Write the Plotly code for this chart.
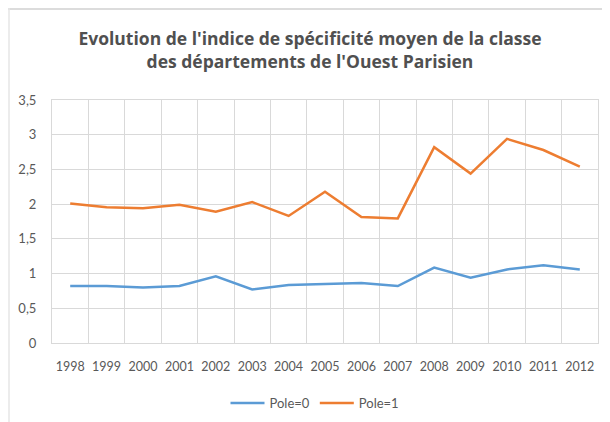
import plotly.graph_objects as go

years = ["1998", "1999", "2000", "2001", "2002", "2003", "2004", "2005",
         "2006", "2007", "2008", "2009", "2010", "2011", "2012"]
pole0 = [0.82, 0.82, 0.80, 0.82, 0.96, 0.77, 0.835, 0.845, 0.865, 0.82,
         1.085, 0.94, 1.06, 1.12, 1.06]
pole1 = [2.01, 1.955, 1.94, 1.99, 1.89, 2.03, 1.83, 2.18, 1.815, 1.795,
         2.82, 2.44, 2.94, 2.78, 2.54]
y_ticks = [0, 0.5, 1, 1.5, 2, 2.5, 3, 3.5]
title_text = "Evolution de l'indice de spécificité moyen de la classe<br>des départements de l'Ouest Parisien"

# page has an 8px body margin; work in figure coordinates
OFF = 8
W, H = 610 - OFF, 422 - OFF
L, T = 52 - OFF, 100 - OFF
R = W - (598 - OFF)
B = H - (343 - OFF)
pw, ph = W - L - R, H - T - B

fig = go.Figure()
fig.add_trace(go.Scatter(x=years, y=pole0, mode="lines", name="Pole=0",
                         line=dict(color="#5B9BD5", width=2.5)))
fig.add_trace(go.Scatter(x=years, y=pole1, mode="lines", name="Pole=1",
                         line=dict(color="#ED7D31", width=2.5)))

grid = "#D9D9D9"
fig.update_layout(
    width=W, height=H,
    margin=dict(l=L, r=R, t=T, b=B, autoexpand=False),
    paper_bgcolor="white", plot_bgcolor="white",
    separators=", ",
    font=dict(family="Lato, Open Sans, sans-serif", color="#595959", size=13),
    title=dict(text=title_text, x=(310 - OFF) / W, xanchor="center",
               y=1 - 37 / H, yanchor="middle",
               font=dict(family="Open Sans, sans-serif", size=17.5, color="#505050",
                         weight="bold")),
    showlegend=True,
    legend=dict(orientation="h", x=(315 - OFF - L) / pw, xanchor="center",
                y=-(403 - OFF - (T + ph)) / ph, yanchor="middle",
                font=dict(size=13, color="#595959"),
                itemwidth=34, tracegroupgap=0),
    xaxis=dict(type="category", tickson="boundaries", showgrid=True, gridcolor=grid,
               gridwidth=1, ticks="", showline=True, linecolor=grid, mirror=True,
               range=[-0.5, len(years) - 0.5], tickfont=dict(size=12.5, color="#595959"),
               tickangle=0, ticklabelstandoff=12, automargin=False, fixedrange=True),
    yaxis=dict(range=[0, 3.5], tickvals=y_ticks, showgrid=True, gridcolor=grid,
               gridwidth=1, zeroline=False, showline=True, linecolor=grid, mirror=True,
               ticks="", ticklabelstandoff=12, tickfont=dict(size=13, color="#595959"),
               automargin=False, fixedrange=True),
    shapes=[
        dict(type="line", xref="paper", yref="paper",
             x0=(0 - L) / pw, x1=(W - L) / pw,
             y0=1 + (T - 1) / ph, y1=1 + (T - 1) / ph,
             line=dict(color="#DCDCDC", width=2)),
        dict(type="line", xref="paper", yref="paper",
             x0=(1 - L) / pw, x1=(1 - L) / pw,
             y0=1 + T / ph, y1=-B / ph,
             line=dict(color="#E6E6E6", width=1.5)),
    ],
)

fig.write_html("out.html")
